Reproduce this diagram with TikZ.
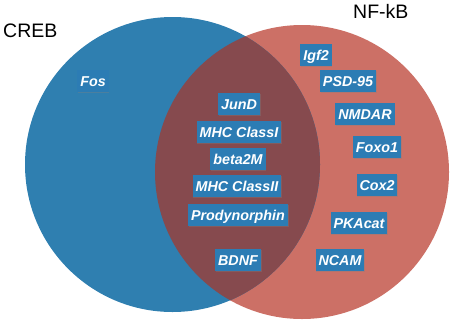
\documentclass[tikz,border=0pt]{standalone}
\usepackage{fontspec}
\setmainfont{Liberation Sans}
\usetikzlibrary{shadows}
\definecolor{crebblue}{RGB}{47,127,176}
\definecolor{nfred}{RGB}{204,112,102}
\definecolor{overlapc}{RGB}{134,74,78}
\definecolor{boxblue}{RGB}{44,124,180}
\begin{document}
\begin{tikzpicture}[x=1pt,y=-1pt,
  gene/.style={fill=boxblue, text=white,
    font=\fontsize{14.3}{15}\selectfont\bfseries\itshape,
    inner xsep=3pt, inner ysep=3.6pt, text height=12.2pt, text depth=2.2pt,
    drop shadow={shadow xshift=0.7pt,shadow yshift=-0.7pt,opacity=0.35}},
  setlabel/.style={font=\fontsize{19.5}{20}\selectfont, inner sep=0pt, anchor=base west}]
\useasboundingbox (0,0) rectangle (454,324);
\fill[nfred] (302,172) circle[radius=147pt];
\fill[crebblue] (172.5,164.5) circle[radius=147.5pt];
\begin{scope}
  \clip (302,172) circle[radius=147pt];
  \fill[overlapc] (172.5,164.5) circle[radius=147.5pt];
\end{scope}
\node[setlabel] (creb) at (3,37) {CREB};
\node[setlabel] (nfkb) at (353,18) {NF-kB};
\node[gene] (fos) at (93,81) {Fos};
\node[gene] (igf2) at (316,55) {Igf2};
\node[gene] (psd) at (348,81) {PSD-95};
\node[gene] (nmdar) at (365,114) {NMDAR};
\node[gene] (foxo) at (377,147) {Foxo1};
\node[gene] (cox) at (377,185) {Cox2};
\node[gene] (pka) at (359,223) {PKAcat};
\node[gene] (ncam) at (340,260) {NCAM};
\node[gene] (jund) at (239,104) {JunD};
\node[gene] (mhc1) at (239,132) {MHC ClassI};
\node[gene] (beta) at (238,159) {beta2M};
\node[gene] (mhc2) at (237,186) {MHC ClassII};
\node[gene] (prody) at (238,215) {Prodynorphin};
\node[gene] (bdnf) at (238,260) {BDNF};
\end{tikzpicture}
\end{document}
